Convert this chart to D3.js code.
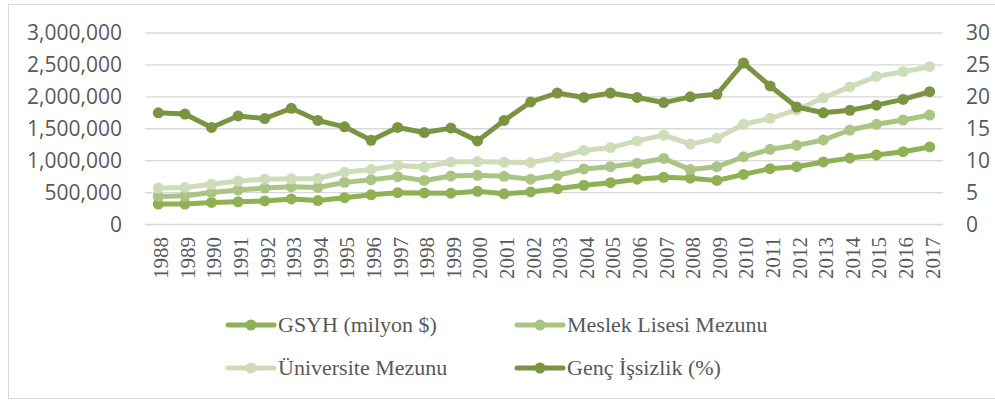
<!DOCTYPE html>
<html>
<head>
<meta charset="utf-8">
<script src="https://cdn.jsdelivr.net/npm/d3@7"></script>
<style>
  body { margin: 0; background: #fff; }
</style>
</head>
<body>
<div id="appContainer"></div>
<script>
const years = [1988, 1989, 1990, 1991, 1992, 1993, 1994, 1995, 1996, 1997, 1998, 1999, 2000, 2001, 2002,
  2003, 2004, 2005, 2006, 2007, 2008, 2009, 2010, 2011, 2012, 2013, 2014, 2015, 2016, 2017]

const gsyh = [320000, 320000, 345000, 355000, 370000, 400000, 375000, 420000, 465000, 498000, 495000, 490000, 520000, 480000, 510000,
  560000, 615000, 655000, 710000, 740000, 725000, 690000, 785000, 875000, 905000, 980000, 1040000, 1090000, 1140000, 1215000]

const meslek = [440000, 450000, 500000, 540000, 570000, 590000, 580000, 660000, 700000, 750000, 690000, 760000, 770000, 755000, 710000,
  770000, 870000, 905000, 960000, 1035000, 860000, 905000, 1060000, 1178000, 1240000, 1324000, 1480000, 1570000, 1637000, 1715000]

const universite = [570000, 580000, 630000, 680000, 710000, 715000, 720000, 820000, 860000, 925000, 900000, 980000, 985000, 975000, 970000,
  1050000, 1160000, 1205000, 1310000, 1400000, 1260000, 1350000, 1570000, 1663000, 1794000, 1985000, 2155000, 2320000, 2394000, 2472000]

const issizlik = [17.5, 17.3, 15.2, 17.0, 16.6, 18.2, 16.3, 15.3, 13.2, 15.2, 14.4, 15.1, 13.1, 16.3, 19.2,
  20.6, 19.9, 20.6, 19.9, 19.1, 20.0, 20.4, 25.3, 21.7, 18.4, 17.5, 17.9, 18.7, 19.6, 20.8]

const leftTicks = [0, 500000, 1000000, 1500000, 2000000, 2500000, 3000000]
const rightTicks = [0, 5, 10, 15, 20, 25, 30]

const seriesNames = ["GSYH (milyon $)", "Meslek Lisesi Mezunu", "Üniversite Mezunu", "Genç İşsizlik (%)"]

const w = 995
const h = 400
const sans = "'Open Sans', 'Noto Sans', sans-serif"
const serif = "'Liberation Serif', 'DejaVu Serif', serif"

// series drawn in excel order, the last one on the secondary axis
const series = [
  {name: seriesNames[0], values: gsyh, color: "#8fb053", axis: "left"},
  {name: seriesNames[1], values: meslek, color: "#aac583", axis: "left"},
  {name: seriesNames[2], values: universite, color: "#cedcb9", axis: "left"},
  {name: seriesNames[3], values: issizlik, color: "#7a9442", axis: "right"}
]

const xScale = d3.scaleBand()
  .domain(years)
  .range([145, 943])

const yLeft = d3.scaleLinear()
  .domain([0, 3000000])
  .range([224.5, 33])

const yRight = d3.scaleLinear()
  .domain([0, 30])
  .range([224.5, 33])

const svg = d3.select("#appContainer")
  .append("svg")
  .attr("width", w)
  .attr("height", h)

svg.append("rect")
  .attr("x", 8.5)
  .attr("y", 4.5)
  .attr("width", 1000)
  .attr("height", 394)
  .attr("fill", "none")
  .attr("stroke", "#d9d9d9")

// gridlines
svg.append("g")
  .selectAll("line")
  .data(leftTicks)
  .enter()
  .append("line")
  .attr("x1", 145)
  .attr("x2", 943)
  .attr("y1", d => yLeft(d))
  .attr("y2", d => yLeft(d))
  .attr("stroke", "#d9d9d9")
  .attr("stroke-width", 1.3)

const yAxisLeft = d3.axisLeft(yLeft).tickValues(leftTicks).tickSize(0).tickPadding(0).tickFormat(d3.format(","))
svg.append("g")
  .attr("transform", "translate(122,0)")
  .call(yAxisLeft)
  .call(g => g.select(".domain").remove())
  .selectAll("text")
  .attr("fill", "#595959")
  .style("font-family", sans)
  .style("font-size", "21px")

const yAxisRight = d3.axisRight(yRight).tickValues(rightTicks).tickSize(0).tickPadding(0)
svg.append("g")
  .attr("transform", "translate(966,0)")
  .call(yAxisRight)
  .call(g => g.select(".domain").remove())
  .selectAll("text")
  .attr("fill", "#595959")
  .style("font-family", sans)
  .style("font-size", "21px")

// year labels, rotated
svg.append("g")
  .selectAll("text")
  .data(years)
  .enter()
  .append("text")
  .attr("transform", d => "translate(" + (xScale(d) + xScale.bandwidth() / 2 + 3) + ",237) rotate(-90)")
  .attr("text-anchor", "end")
  .attr("dy", "0.33em")
  .attr("fill", "#595959")
  .style("font-family", serif)
  .style("font-size", "21px")
  .text(d => d)

const line = s => d3.line()
  .x((d, i) => xScale(years[i]) + xScale.bandwidth() / 2)
  .y(d => s.axis == "left" ? yLeft(d) : yRight(d))

series.forEach(s => {
  const g = svg.append("g")
  g.append("path")
    .datum(s.values)
    .attr("d", line(s))
    .attr("fill", "none")
    .attr("stroke", s.color)
    .attr("stroke-width", 5)
    .attr("stroke-linejoin", "round")
  g.selectAll("circle")
    .data(s.values)
    .enter()
    .append("circle")
    .attr("cx", (d, i) => xScale(years[i]) + xScale.bandwidth() / 2)
    .attr("cy", d => s.axis == "left" ? yLeft(d) : yRight(d))
    .attr("r", 5.5)
    .attr("fill", s.color)
})

// legend 2x2
const legendPos = [[228, 325], [517, 325], [228, 368], [517, 368]]

const legend = svg.append("g")
  .selectAll("g")
  .data(series)
  .enter()
  .append("g")
  .attr("transform", (d, i) => "translate(" + legendPos[i][0] + "," + legendPos[i][1] + ")")

legend.append("line")
  .attr("x1", 0)
  .attr("x2", 46)
  .attr("stroke", d => d.color)
  .attr("stroke-width", 5)
  .attr("stroke-linecap", "round")

legend.append("circle")
  .attr("cx", 23)
  .attr("r", 5.5)
  .attr("fill", d => d.color)

legend.append("text")
  .attr("x", 50)
  .attr("dy", "0.33em")
  .attr("fill", "#595959")
  .style("font-family", serif)
  .style("font-size", "22px")
  .text(d => d.name)
</script>
</body>
</html>
